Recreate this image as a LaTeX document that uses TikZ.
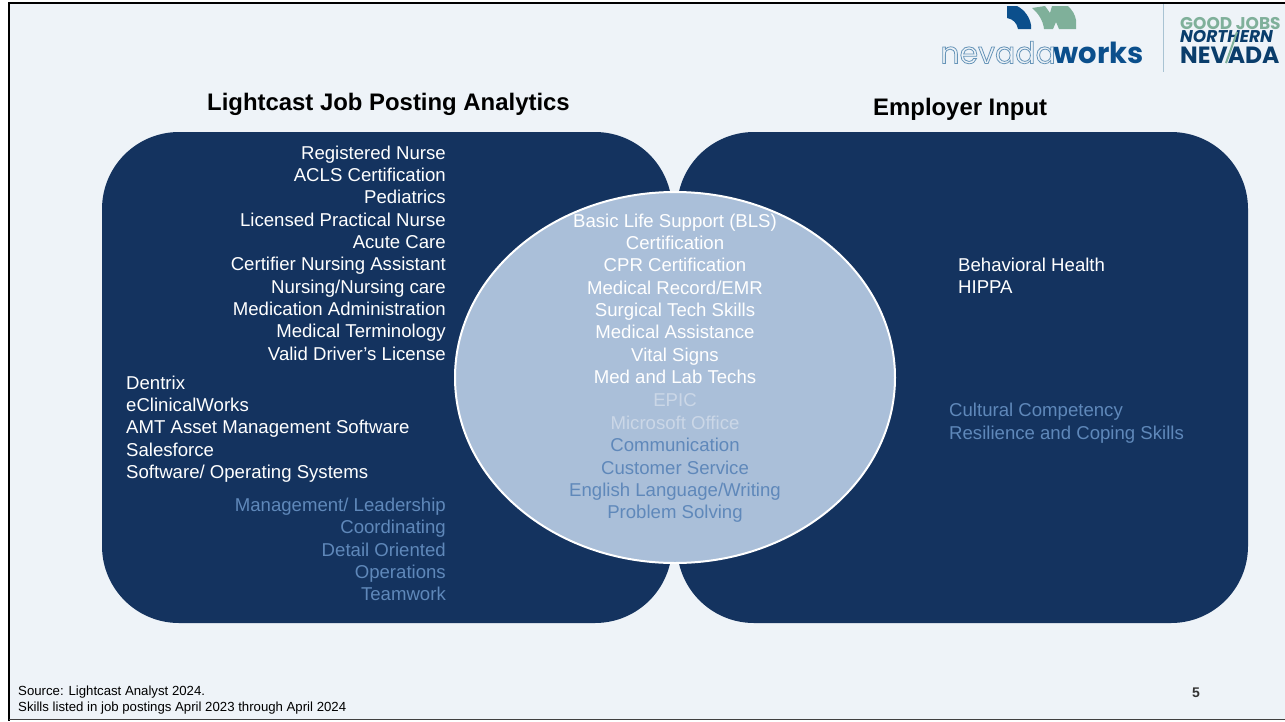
\documentclass[tikz,border=0pt]{standalone}
\usepackage{fontspec}
\usetikzlibrary{shapes.geometric}
\setmainfont{Liberation Sans}
\newfontfamily\logofont{Poppins}
\definecolor{pagebg}{HTML}{EEF3F8}
\definecolor{navy}{HTML}{14335F}
\definecolor{lens}{HTML}{AABFD9}
\definecolor{softblue}{HTML}{5F88BA}
\definecolor{paletxt}{HTML}{CBD7E7}
\definecolor{logoblue}{HTML}{0B4F8C}
\definecolor{logodark}{HTML}{0A3D6B}
\definecolor{logogreen}{HTML}{7FB09A}
\definecolor{logoline}{HTML}{A9C3D3}
\newcommand{\outlinetxt}[1]{\special{pdf:code q 1 Tr 0.8 w 0.40 0.58 0.72 RG}#1\special{pdf:code Q}}
\tikzset{
  lobe/.style={fill=navy,draw=none,rounded corners=77pt},
  lensshape/.style={ellipse,draw=white,fill=lens,line width=2pt,minimum width=440pt,minimum height=371pt,inner sep=0pt},
  skills/.style={inner sep=0pt,font=\fontsize{18.6}{22.35}\selectfont},
  skillsR/.style={skills,align=right,anchor=north east},
  skillsL/.style={skills,align=left,anchor=north west},
  skillsC/.style={skills,align=center,anchor=north},
  headline/.style={inner sep=0pt,font=\fontsize{23.9}{28}\selectfont\bfseries,anchor=base west},
  note/.style={inner sep=0pt,font=\fontsize{13.2}{16}\selectfont,align=left,anchor=north west},
}
\begin{document}
\begin{tikzpicture}[x=1pt,y=-1pt]
\useasboundingbox (0,0) rectangle (1285,721);
\fill[white] (0,0) rectangle (1285,721);
\fill[pagebg] (9,3) rectangle (1285,720);
\draw[black,line width=2.4pt] (1285,3) -- (9.2,3) -- (9.2,721);
\draw[black!75,line width=1pt] (9,719.8) -- (1285,719.8);
% lobes
\path[lobe] (102,132) rectangle (672,623);
\path[lobe] (677,132) rectangle (1248,623);
\node[lensshape] (lens) at (675,377.5) {};
% titles
\node[headline] (t1) at (207,110) {Lightcast Job Posting Analytics};
\node[headline] (t2) at (873,115) {Employer Input};
% left lists
\node[skillsR,text=white] (l1) at (446,145.5) {Registered Nurse\\ACLS Certification\\Pediatrics\\Licensed Practical Nurse\\Acute Care\\Certifier Nursing Assistant\\Nursing/Nursing care\\Medication Administration\\Medical Terminology\\Valid Driver’s License};
\node[skillsL,text=white] (l2) at (126,375.5) {Dentrix\\eClinicalWorks\\AMT Asset Management Software\\Salesforce\\Software/ Operating Systems};
\node[skillsR,text=softblue] (l3) at (446,497.7) {Management/ Leadership\\Coordinating\\Detail Oriented\\Operations\\Teamwork};
% centre
\node[skillsC,text=white] (c1) at (675,213.5) {Basic Life Support (BLS)\\Certification\\CPR Certification\\Medical Record/EMR\\Surgical Tech Skills\\Medical Assistance\\Vital Signs\\Med and Lab Techs};
\node[skillsC,text=paletxt] (c2) at (675,393.5) {EPIC\\Microsoft Office};
\node[skillsC,text=softblue] (c3) at (675,438) {Communication\\Customer Service\\English Language/Writing\\Problem Solving};
% right
\node[skillsL,text=white] (r1) at (958,257.5) {Behavioral Health\\HIPPA};
\node[skillsL,text=softblue] (r2) at (949,403) {Cultural Competency\\Resilience and Coping Skills};
% footer
\node[note] (src) at (18,685.5) {Source: Lightcast Analyst 2024.\\Skills listed in job postings April 2023 through April 2024};
\node[inner sep=0pt,font=\fontsize{14}{16}\selectfont\bfseries,text=black!80] (pg) at (1196,692.7) {5};
% logo
\fill[logoblue] (1007,6) -- (1007,18) .. controls (1013,19) and (1017,23) .. (1018,29) -- (1031,29) -- (1031,25) .. controls (1030,18) and (1025,10) .. (1017,6) -- cycle;
\fill[logogreen] (1032,8) -- (1045,6) -- (1050,13) -- (1052,6) -- (1068,6) .. controls (1072,10) and (1075,14) .. (1076,20) -- (1076,29) -- (1059,29) -- (1056,22) -- (1053,29) -- (1044,29) .. controls (1043,20) and (1038,13) .. (1032,8) -- cycle;
\node[inner sep=0pt,anchor=base east,font=\logofont\fontsize{29}{32}\selectfont\bfseries,text=logoblue] (lw) at (1144,63.5) {works};
\node[inner sep=0pt,anchor=base east,font=\logofont\fontsize{30}{33}\selectfont,text=logoblue] (ln) at (1056,63.5) {\outlinetxt{nevada}};
\draw[logoline,line width=1pt] (1163,4) -- (1163,72);
\node[inner sep=0pt,anchor=base west,font=\logofont\fontsize{17}{20}\selectfont\bfseries,text=logogreen] (g1) at (1180,29) {GOOD JOBS};
\node[inner sep=0pt,anchor=base west,font=\logofont\fontsize{17}{18}\selectfont\bfseries\itshape,text=logodark] (g2) at (1180,42.5) {NORTHERN};
\node[inner sep=0pt,anchor=base west,font=\logofont\fontsize{23.5}{26}\selectfont\bfseries,text=logodark] (g3) at (1180,63.5) {NEVADA};
\coordinate (tickA) at (1226,63);
\coordinate (tickB) at (1237,32);
\draw[logogreen,line width=2pt] (tickA) -- (tickB);
\end{tikzpicture}
\end{document}
